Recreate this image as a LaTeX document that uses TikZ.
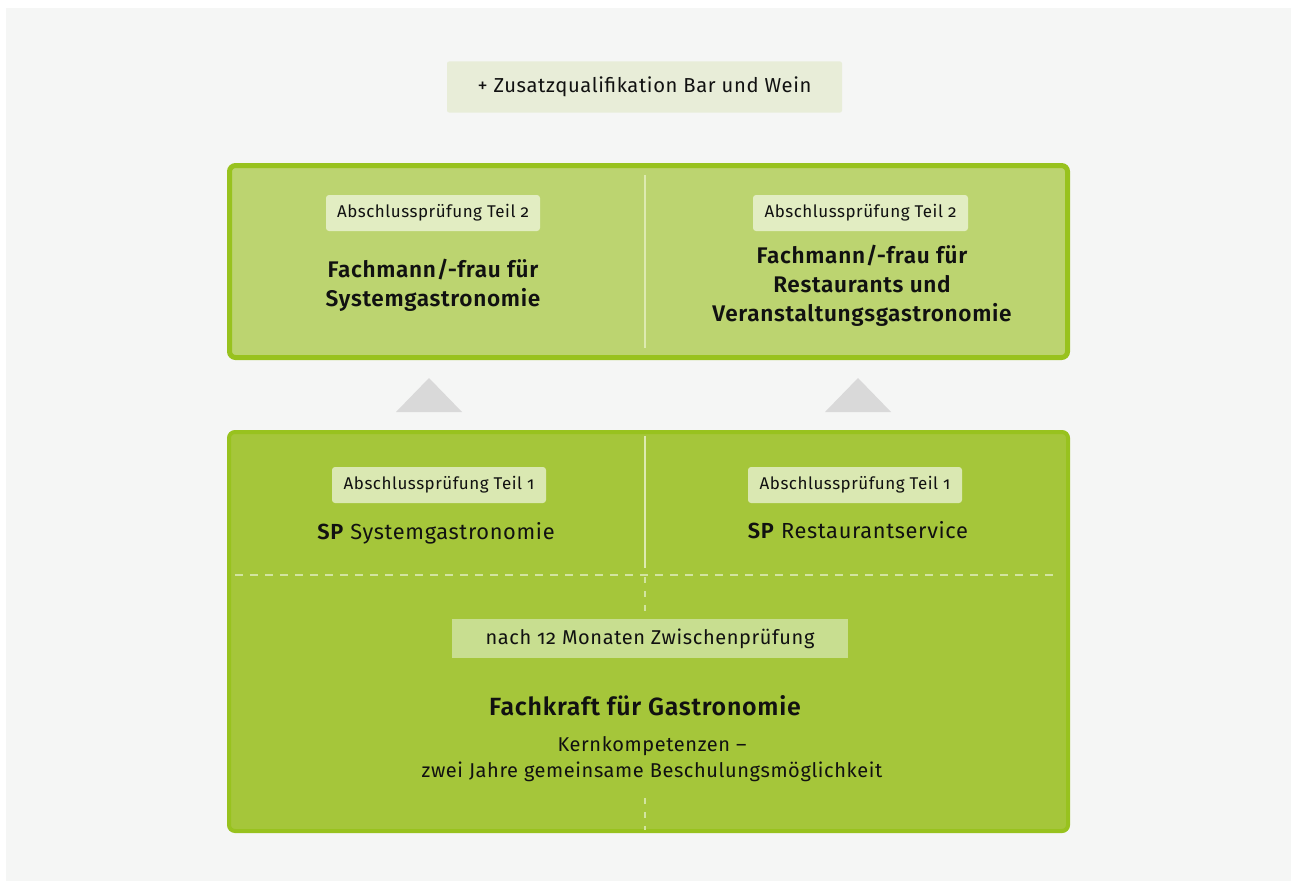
\documentclass[tikz,border=0pt]{standalone}
\usepackage{fontspec}
\setmainfont{Fira Sans}[Numbers=OldStyle, LetterSpace=3, BoldFont={Fira Sans SemiBold}]
\usetikzlibrary{positioning}
\definecolor{bgpanel}{HTML}{F5F6F5}
\definecolor{topbox}{HTML}{E8EDD8}
\definecolor{upfill}{HTML}{BCD470}
\definecolor{lowfill}{HTML}{A5C63A}
\definecolor{frame}{HTML}{98C21E}
\definecolor{lbl2}{HTML}{E2EDC2}
\definecolor{lbl1}{HTML}{DAE8B2}
\definecolor{zwbox}{HTML}{C8DE90}
\definecolor{divline}{HTML}{DDEAB0}
\definecolor{dashc}{HTML}{D2E4A0}
\definecolor{tri}{HTML}{D9D9D9}
\definecolor{ink}{HTML}{111111}
\tikzset{
  bigbox/.style={draw=frame, line width=5pt, rounded corners=6pt},
  tag/.style={fill=#1, rounded corners=3pt, inner sep=0pt, text=ink, font=\fontsize{17}{20}\selectfont},
  titletext/.style={align=center, text=ink, font=\fontsize{22.6}{29}\selectfont\bfseries},
  plaintext/.style={align=center, text=ink, font=\fontsize{21}{26}\selectfont},
}
\begin{document}
\begin{tikzpicture}[x=1pt,y=-1pt]
\useasboundingbox (0,0) rectangle (1292,883);
\fill[white] (0,0) rectangle (1292,883);
\fill[bgpanel] (6,8) rectangle (1291,881);

% top box
\node[fill=topbox, rounded corners=2pt, minimum width=395pt, minimum height=51pt, inner sep=0pt,
      text=ink, font=\fontsize{20.2}{24}\selectfont] (zq) at (644.5,87) {+ Zusatzqualifikation Bar und Wein};

% upper box
\draw[bigbox, fill=upfill] (229.5,165.5) rectangle (1067.5,357.5);
\coordinate (updivtop) at (645,175);
\coordinate (updivbot) at (645,348);
\draw[divline, line width=2pt] (updivtop) -- (updivbot);

\node[tag=lbl2, minimum width=214pt, minimum height=36pt] (l2a) at (433,213) {Abschlussprüfung Teil 2};
\node[tag=lbl2, minimum width=215pt, minimum height=36pt] (l2b) at (860.5,213) {Abschlussprüfung Teil 2};
\node[titletext] (t1) at (433,285) {Fachmann/-frau für\\Systemgastronomie};
\node[titletext] (t2) at (862,286) {Fachmann/-frau für\\Restaurants und\\Veranstaltungsgastronomie};

% triangles
\fill[tri] (429,378) -- (462,412) -- (396,412) -- cycle;
\fill[tri] (858,378) -- (891,412) -- (825,412) -- cycle;

% lower box
\draw[bigbox, fill=lowfill, line width=4pt] (229,432) rectangle (1068,831);
\coordinate (lodivtop) at (645,436);
\coordinate (lodivbot) at (645,568);
\draw[divline, line width=2pt] (lodivtop) -- (lodivbot);
\coordinate (dashL) at (235,575);
\coordinate (dashR) at (1058,575);
\draw[dashc, line width=2.2pt, dash pattern=on 8pt off 7pt] (dashL) -- (dashR);
\coordinate (vd1a) at (645,577);
\coordinate (vd1b) at (645,612);
\draw[dashc, line width=2.2pt, dash pattern=on 6pt off 8pt] (vd1a) -- (vd1b);
\coordinate (vd2a) at (645,798);
\coordinate (vd2b) at (645,830);
\draw[dashc, line width=2.2pt, dash pattern=on 6pt off 8pt] (vd2a) -- (vd2b);

\node[tag=lbl1, minimum width=214pt, minimum height=36pt] (l1a) at (439,485) {Abschlussprüfung Teil 1};
\node[tag=lbl1, minimum width=214pt, minimum height=36pt] (l1b) at (855,485) {Abschlussprüfung Teil 1};
\node[plaintext, font=\fontsize{21.8}{26}\selectfont] (sp1) at (436,533) {\textbf{SP} Systemgastronomie};
\node[plaintext, font=\fontsize{21.8}{26}\selectfont] (sp2) at (858,530) {\textbf{SP} Restaurantservice};

\node[fill=zwbox, minimum width=396pt, minimum height=39pt, inner sep=0pt, text=ink,
      font=\fontsize{20}{24}\selectfont] (zw) at (650,638.5) {nach 12 Monaten Zwischenprüfung};
\node[titletext, font=\fontsize{24.9}{30}\selectfont\bfseries] (fk) at (645,706) {Fachkraft für Gastronomie};
\node[plaintext, font=\fontsize{20}{26}\selectfont] (kk) at (652,759) {Kernkompetenzen –\\zwei Jahre gemeinsame Beschulungsmöglichkeit};
\end{tikzpicture}
\end{document}
